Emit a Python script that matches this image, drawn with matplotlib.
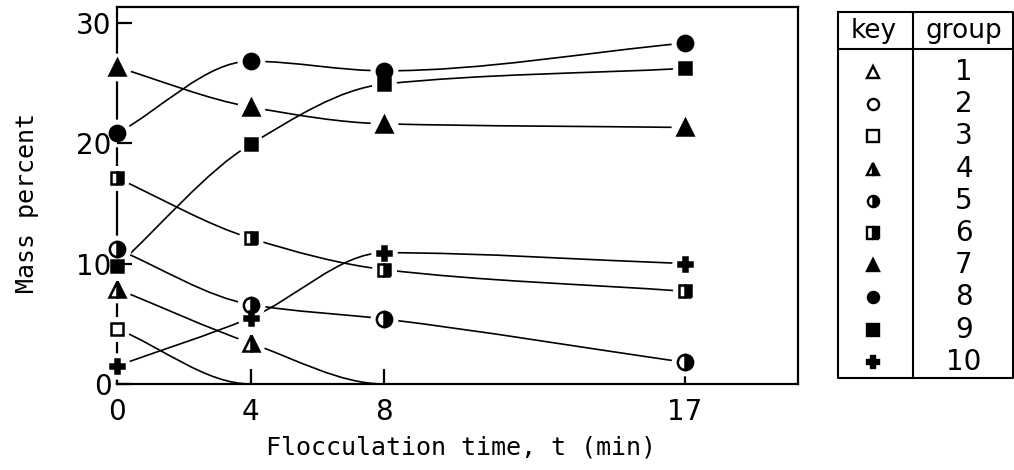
import numpy as np
import matplotlib
matplotlib.use("Agg")
import matplotlib.pyplot as plt
from matplotlib.path import Path
from matplotlib.patches import PathPatch

# flocculation times (min)
times = [0, 4, 8, 17]

# mass percent per group
group1 = [0, 0, 0, 0]
group2 = [0, 0, 0, 0]
group3 = [4.6, 0, 0, 0]
group4 = [7.9, 3.4, 0, 0]
group5 = [11.2, 6.6, 5.4, 1.8]
group6 = [17.1, 12.1, 9.5, 7.7]
group7 = [26.3, 23.0, 21.6, 21.3]
group8 = [20.8, 26.8, 26.0, 28.3]
group9 = [9.8, 19.9, 24.9, 26.2]
group10 = [1.5, 5.5, 10.9, 10.0]

groups = [group1, group2, group3, group4, group5,
          group6, group7, group8, group9, group10]
group_names = ["1", "2", "3", "4", "5", "6", "7", "8", "9", "10"]

# marker style for each group (shape, fill)
styles = [("^", "none"), ("o", "none"), ("s", "none"), ("^", "right"),
          ("o", "right"), ("s", "right"), ("^", "full"), ("o", "full"),
          ("s", "full"), ("P", "full")]
sizes = [11, 11, 9, 11, 11, 9, 11, 11, 9, 10]


def smooth_path(xs, ys):
    # monotone (pchip style) tangents, drawn as cubic bezier pieces
    x = np.asarray(xs, float)
    y = np.asarray(ys, float)
    h = np.diff(x)
    d = np.diff(y) / h
    m = np.zeros(len(x))
    m[0], m[-1] = d[0], d[-1]
    for i in range(1, len(x) - 1):
        if d[i - 1] * d[i] > 0:
            w1 = 2 * h[i] + h[i - 1]
            w2 = h[i] + 2 * h[i - 1]
            m[i] = (w1 + w2) / (w1 / d[i - 1] + w2 / d[i])
    verts = [(x[0], y[0])]
    codes = [Path.MOVETO]
    for i in range(len(x) - 1):
        verts += [(x[i] + h[i] / 3, y[i] + m[i] * h[i] / 3),
                  (x[i + 1] - h[i] / 3, y[i + 1] - m[i + 1] * h[i] / 3),
                  (x[i + 1], y[i + 1])]
        codes += [Path.CURVE4] * 3
    return Path(verts, codes)


fig = plt.figure(figsize=(10.14, 4.70), dpi=100)
ax = fig.add_axes([117 / 1014, 86 / 470, 681 / 1014, 377 / 470])

for g in groups:
    if max(g) == 0:
        continue
    patch = PathPatch(smooth_path(times, g), facecolor="none",
                      edgecolor="black", lw=1.2, zorder=2)
    ax.add_patch(patch)

# white halos so the lines stop short of the markers
for g, (m, fs), ms in zip(groups, styles, sizes):
    xs = [t for t, v in zip(times, g) if v > 0]
    ys = [v for v in g if v > 0]
    ax.plot(xs, ys, ls="none", marker="o", ms=ms + 8, mfc="white",
            mec="white", zorder=3, clip_on=False)

for g, (m, fs), ms in zip(groups, styles, sizes):
    xs = [t for t, v in zip(times, g) if v > 0]
    ys = [v for v in g if v > 0]
    ax.plot(xs, ys, ls="none", marker=m, ms=ms, fillstyle=fs,
            mfc="black", mfcalt="white", mec="black", mew=1.8,
            zorder=4, clip_on=False)

ax.set_xlim(0, 20.4)
ax.set_ylim(0, 31.3)
ax.set_xticks(times)
ax.set_yticks([0, 10, 20, 30])
for s in ax.spines.values():
    s.set_linewidth(1.6)
ax.tick_params(direction="in", length=11, width=1.6, labelsize=20)
ax.tick_params(axis="x", pad=10)
ax.tick_params(axis="y", pad=4)
ax.yaxis.set_zorder(5)

fig.text(461 / 1014, 1 - 447 / 470, "Flocculation time, t (min)",
         family="DejaVu Sans Mono", fontsize=18, ha="center", va="center")
fig.text(27 / 1014, 1 - 203 / 470, "Mass percent",
         family="DejaVu Sans Mono", fontsize=18, rotation=90,
         ha="center", va="center")

# key table on the right
tab = fig.add_axes([838 / 1014, 92 / 470, 175 / 1014, 366 / 470])
tab.set_xlim(0, 175)
tab.set_ylim(366, 0)
tab.axis("off")
tab.plot([0, 175, 175, 0, 0], [0, 0, 366, 366, 0], color="black", lw=1.5,
         clip_on=False)
tab.plot([0, 175], [37, 37], color="black", lw=1.5)
tab.plot([75, 75], [0, 366], color="black", lw=1.5)
tab.text(36, 19, "key", ha="center", va="center", fontsize=19)
tab.text(126, 19, "group", ha="center", va="center", fontsize=19)
row_y = 60 + 32.2 * np.arange(len(group_names))
for yy, name, (m, fs) in zip(row_y, group_names, styles):
    tab.plot([35], [yy], marker=m, ms=8, fillstyle=fs, mfc="black",
             mfcalt="white", mec="black", mew=1.7, ls="none")
    tab.text(126, yy, name, ha="center", va="center", fontsize=20)

fig.savefig("out.png", dpi=100)
